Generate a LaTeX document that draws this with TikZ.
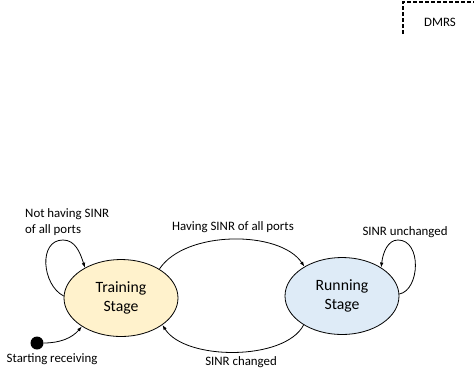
\documentclass[tikz,border=0pt]{standalone}
\usepackage{fontspec}
\setmainfont{Carlito}
\usetikzlibrary{shapes.geometric,arrows.meta}
\definecolor{trainfill}{HTML}{FFF2CC}
\definecolor{runfill}{HTML}{DEEBF7}
\tikzset{
  stage/.style={ellipse, draw=black, line width=0.8bp, minimum width=114bp, minimum height=77bp, inner sep=0pt, align=center, font=\fontsize{15.8}{19}\selectfont},
  lbl/.style={inner sep=0pt, font=\fontsize{12.9}{16.5}\selectfont},
  conn/.style={line width=0.8bp, -{Latex[length=5bp,width=3.6bp]}},
  framedash/.style={line width=1.1bp, dash pattern=on 4bp off 2bp}
}
\begin{document}
\begin{tikzpicture}[x=1bp,y=-1bp]
\useasboundingbox (0,0) rectangle (474,378);
\node[stage, fill=trainfill] (tr) at (121,298) {Training\\Stage};
\node[stage, fill=runfill] (rn) at (342,296) {Running\\Stage};
\node[circle, fill=black, inner sep=0pt, minimum size=13bp] (dot) at (37,343) {};
% labels
\node[lbl, anchor=west, align=left] (l1) at (25,222) {Not having SINR\\of all ports};
\node[lbl] (l2) at (233,227) {Having SINR of all ports};
\node[lbl] (l3) at (405,232) {SINR unchanged};
\node[lbl] (l4) at (241,362) {SINR changed};
\node[lbl] (l5) at (52,359) {Starting receiving};
\node[lbl] (dm) at (440,22) {DMRS};
\draw[framedash] (403,34) -- (403,2) -- (480,2);
% connectors
\draw[conn] (tr.178) .. controls (42,285) and (38,240) .. (63,240) .. controls (75,240) and (80,252) .. (tr.140);
\draw[conn] (tr.37) .. controls (185,230) and (280,230) .. (rn.142);
\draw[conn] (rn.217) .. controls (285,361) and (185,361) .. (tr.327);
\draw[conn] (rn.2) .. controls (420,290) and (422,240) .. (398,240) .. controls (388,240) and (383,252) .. (rn.36);
\draw[conn] (dot.east) .. controls (60,343) and (72,338) .. (tr.216);
\end{tikzpicture}
\end{document}
